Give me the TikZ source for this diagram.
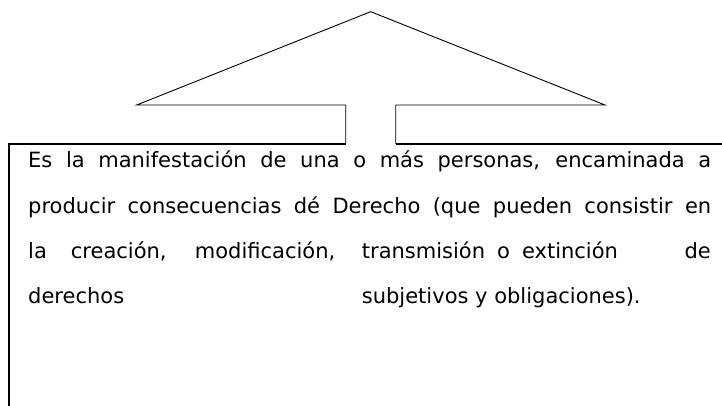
\documentclass[tikz,border=0pt]{standalone}
\usepackage{fontspec}
\setmainfont{DejaVu Sans}
\tikzset{
  txt/.style={anchor=base west, inner sep=0pt, font=\fontsize{21}{25}\selectfont},
  txtr/.style={txt, anchor=base east},
  arrowline/.style={line width=0.9pt, line join=miter},
  boxline/.style={line width=1.6pt}
}
\begin{document}
\begin{tikzpicture}[x=1pt,y=1pt]
\useasboundingbox (0,0) rectangle (722,406);

% Arrow.
\draw[arrowline] (345.7,262) -- (345.7,301) -- (136.7,301) -- (370.7,394.3)
  -- (605,301) -- (395.7,301) -- (395.7,262);

% Box.
\draw[boxline] (9,0) -- (9,262) -- (345.7,262);
\draw[boxline] (395.7,262) -- (722,262);

% Text lines.
\node[txt] (line1) at (28,238) {\makebox[683pt][s]{Es la manifestación de una o más personas, encaminada a}};
\node[txt] (line2) at (28,192.7) {\makebox[683pt][s]{producir consecuencias dé Derecho (que pueden consistir en}};
\node[txt] (line3a) at (28,147.4) {\makebox[307pt][s]{la creación, modificación,}};
\node[txt] (line3b) at (361.7,147.4) {\makebox[256pt][s]{transmisión o extinción}};
\node[txtr] (line3c) at (711,147.4) {de};
\node[txt] (line4a) at (28,102) {derechos};
\node[txt] (line4b) at (361.7,102) {subjetivos y obligaciones).};
\end{tikzpicture}
\end{document}
